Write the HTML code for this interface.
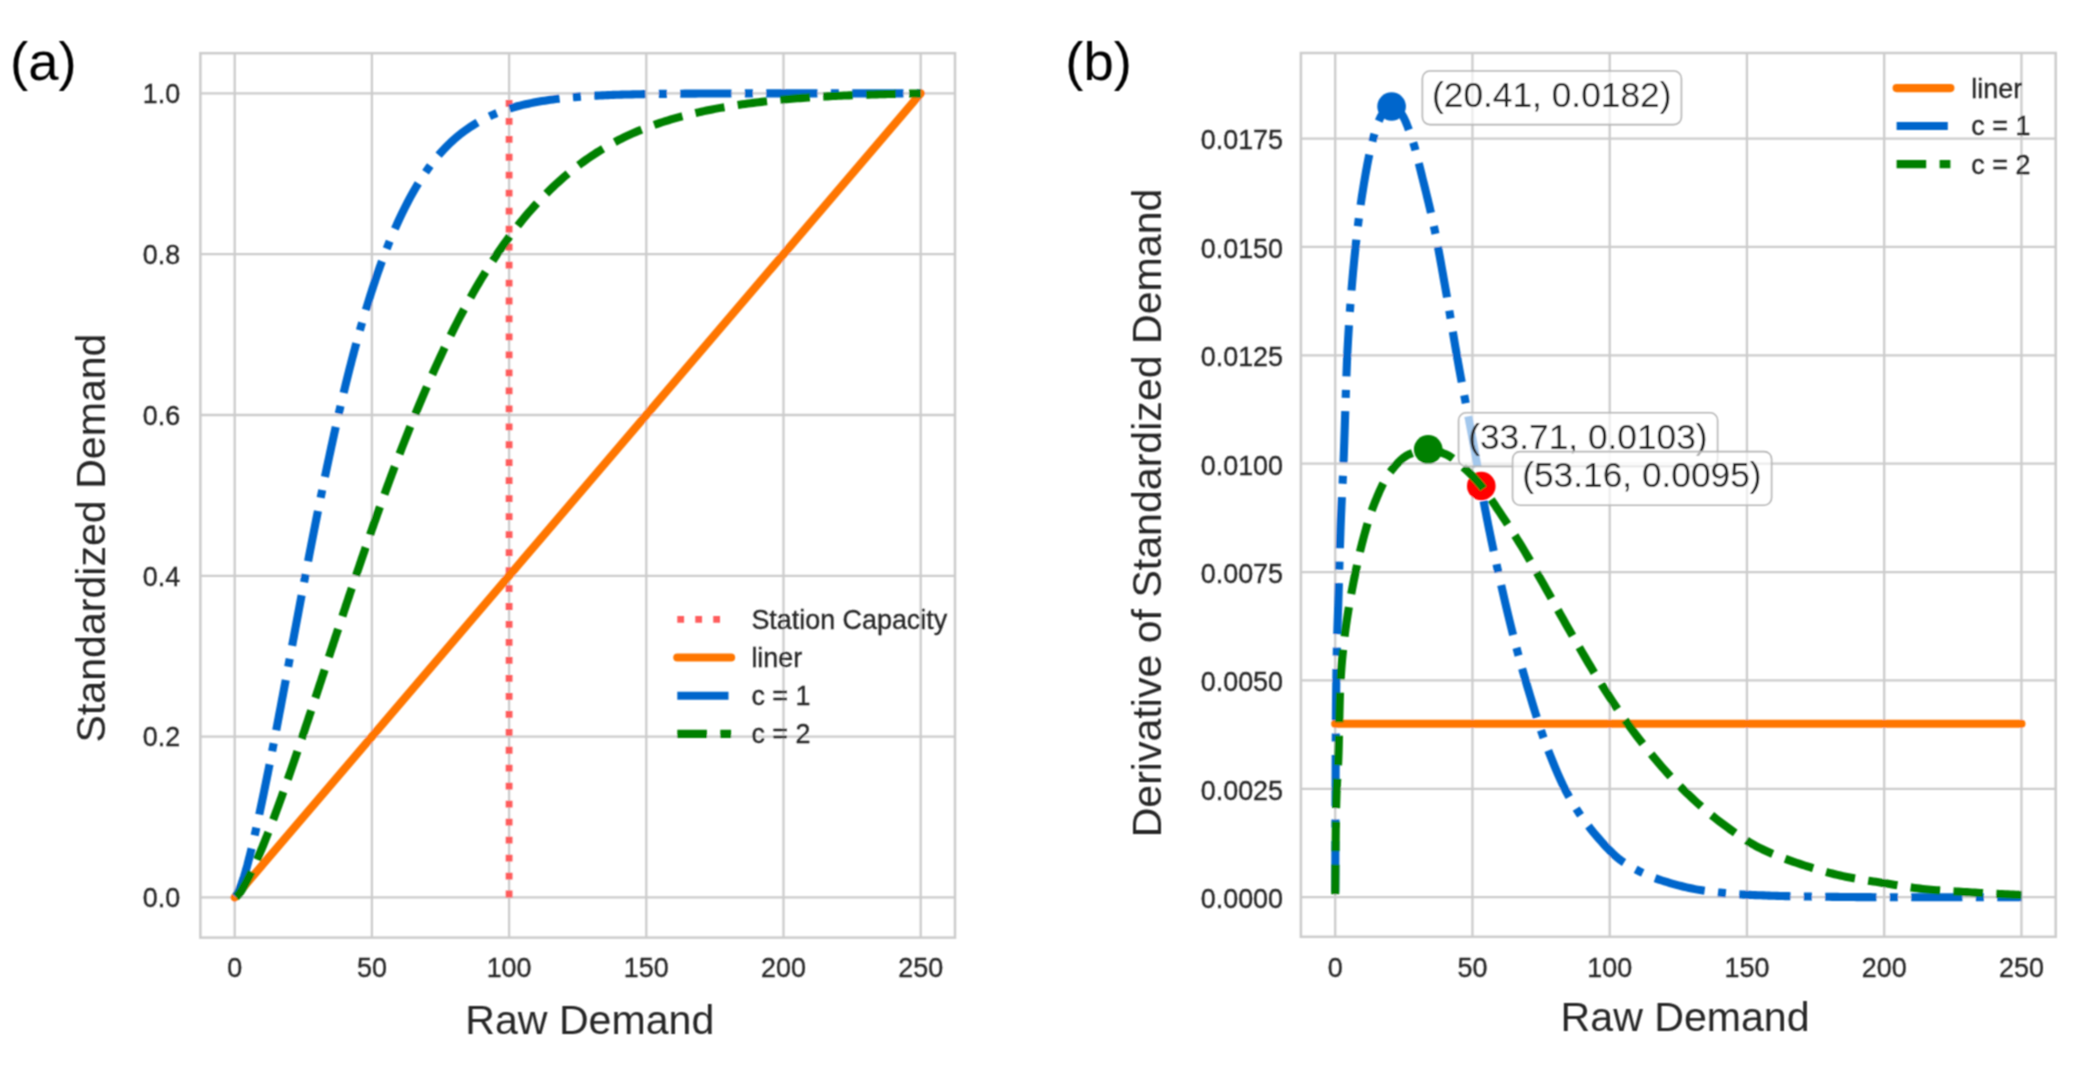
<!DOCTYPE html><html><head><meta charset="utf-8"><title>Standardized demand figure</title><style>html,body{margin:0;padding:0;background:#fff;}svg{display:block;}text{font-family:"Liberation Sans",Arial,Helvetica,sans-serif;}.sm text{stroke:#262626;stroke-width:0.3px;}</style></head><body>
<svg width="2076" height="1074" viewBox="0 0 2076 1074">
<rect width="2076" height="1074" fill="#fff"/>
<defs><filter id="bl" filterUnits="userSpaceOnUse" x="0" y="0" width="2076" height="1074"><feConvolveMatrix order="3" kernelMatrix="1 2 1 2 4 2 1 2 1" divisor="16" edgeMode="duplicate"/></filter></defs>
<g id="fig" filter="url(#bl)">
<g stroke="#cccccc" stroke-width="2.3" fill="none"><line x1="234.70" y1="53.2" x2="234.70" y2="937.6"/><line x1="371.90" y1="53.2" x2="371.90" y2="937.6"/><line x1="509.10" y1="53.2" x2="509.10" y2="937.6"/><line x1="646.30" y1="53.2" x2="646.30" y2="937.6"/><line x1="783.50" y1="53.2" x2="783.50" y2="937.6"/><line x1="920.70" y1="53.2" x2="920.70" y2="937.6"/><line x1="200.4" y1="897.40" x2="955.0" y2="897.40"/><line x1="200.4" y1="736.60" x2="955.0" y2="736.60"/><line x1="200.4" y1="575.80" x2="955.0" y2="575.80"/><line x1="200.4" y1="415.00" x2="955.0" y2="415.00"/><line x1="200.4" y1="254.20" x2="955.0" y2="254.20"/><line x1="200.4" y1="93.40" x2="955.0" y2="93.40"/></g><rect x="200.4" y="53.2" width="754.60" height="884.40" fill="none" stroke="#cccccc" stroke-width="2.5"/>
<g stroke="#cccccc" stroke-width="2.3" fill="none"><line x1="1335.20" y1="53.0" x2="1335.20" y2="936.8"/><line x1="1472.45" y1="53.0" x2="1472.45" y2="936.8"/><line x1="1609.70" y1="53.0" x2="1609.70" y2="936.8"/><line x1="1746.95" y1="53.0" x2="1746.95" y2="936.8"/><line x1="1884.20" y1="53.0" x2="1884.20" y2="936.8"/><line x1="2021.45" y1="53.0" x2="2021.45" y2="936.8"/><line x1="1300.9" y1="897.20" x2="2055.7" y2="897.20"/><line x1="1300.9" y1="788.83" x2="2055.7" y2="788.83"/><line x1="1300.9" y1="680.46" x2="2055.7" y2="680.46"/><line x1="1300.9" y1="572.08" x2="2055.7" y2="572.08"/><line x1="1300.9" y1="463.71" x2="2055.7" y2="463.71"/><line x1="1300.9" y1="355.34" x2="2055.7" y2="355.34"/><line x1="1300.9" y1="246.97" x2="2055.7" y2="246.97"/><line x1="1300.9" y1="138.59" x2="2055.7" y2="138.59"/></g><rect x="1300.9" y="53.0" width="754.80" height="883.80" fill="none" stroke="#cccccc" stroke-width="2.5"/>
<g class="sm" font-size="26.9" fill="#262626"><text x="234.70" y="977.3" text-anchor="middle">0</text><text x="1335.20" y="977.3" text-anchor="middle">0</text><text x="371.90" y="977.3" text-anchor="middle">50</text><text x="1472.45" y="977.3" text-anchor="middle">50</text><text x="509.10" y="977.3" text-anchor="middle">100</text><text x="1609.70" y="977.3" text-anchor="middle">100</text><text x="646.30" y="977.3" text-anchor="middle">150</text><text x="1746.95" y="977.3" text-anchor="middle">150</text><text x="783.50" y="977.3" text-anchor="middle">200</text><text x="1884.20" y="977.3" text-anchor="middle">200</text><text x="920.70" y="977.3" text-anchor="middle">250</text><text x="2021.45" y="977.3" text-anchor="middle">250</text><text x="180.2" y="907.20" text-anchor="end">0.0</text><text x="180.2" y="746.40" text-anchor="end">0.2</text><text x="180.2" y="585.60" text-anchor="end">0.4</text><text x="180.2" y="424.80" text-anchor="end">0.6</text><text x="180.2" y="264.00" text-anchor="end">0.8</text><text x="180.2" y="103.20" text-anchor="end">1.0</text><text x="1283" y="908.00" text-anchor="end">0.0000</text><text x="1283" y="799.63" text-anchor="end">0.0025</text><text x="1283" y="691.25" text-anchor="end">0.0050</text><text x="1283" y="582.88" text-anchor="end">0.0075</text><text x="1283" y="474.51" text-anchor="end">0.0100</text><text x="1283" y="366.14" text-anchor="end">0.0125</text><text x="1283" y="257.77" text-anchor="end">0.0150</text><text x="1283" y="149.39" text-anchor="end">0.0175</text></g>
<g font-size="41.1" fill="#262626"><text x="589.8" y="1034.3" text-anchor="middle">Raw Demand</text><text x="1685.1" y="1031.2" text-anchor="middle">Raw Demand</text><text transform="translate(105.3,538.0) rotate(-90)" text-anchor="middle">Standardized Demand</text><text transform="translate(1161.0,513.0) rotate(-90)" text-anchor="middle">Derivative of Standardized Demand</text></g>
<g class="pl" font-size="54.5" fill="#000"><text x="10" y="79.5">(a)</text><text x="1065.3" y="79.5">(b)</text></g>
<path d="M509.10,897.40 L509.10,93.40" stroke="#ff5c5c" stroke-width="6.78" stroke-dasharray="6.78 11.19" fill="none"/>
<path d="M234.70,897.40 L920.70,93.40" stroke="#ff7600" stroke-width="8.11" stroke-linecap="round" fill="none"/>
<path d="M234.70,897.40 L234.84,897.38 L234.97,897.33 L235.11,897.23 L235.25,897.11 L235.39,896.95 L235.52,896.78 L235.66,896.59 L235.80,896.40 L235.93,896.19 L236.07,895.98 L236.21,895.76 L236.35,895.54 L236.48,895.31 L236.62,895.07 L236.76,894.83 L236.90,894.58 L237.03,894.33 L237.17,894.08 L237.31,893.82 L237.44,893.56 L237.58,893.29 L237.72,893.02 L237.86,892.75 L237.99,892.47 L238.13,892.19 L238.27,891.91 L238.40,891.62 L238.54,891.32 L238.68,891.02 L238.82,890.72 L238.95,890.41 L239.09,890.10 L239.23,889.78 L239.36,889.46 L239.50,889.14 L239.64,888.81 L239.78,888.48 L239.91,888.14 L240.05,887.80 L240.19,887.45 L240.33,887.11 L240.46,886.75 L240.60,886.40 L240.74,886.04 L240.87,885.68 L241.01,885.32 L241.15,884.96 L241.29,884.59 L241.42,884.22 L241.56,883.84 L241.70,883.47 L241.83,883.09 L241.97,882.71 L242.11,882.32 L242.25,881.94 L242.38,881.55 L242.52,881.16 L242.66,880.76 L242.79,880.37 L242.93,879.97 L243.07,879.56 L243.21,879.16 L243.34,878.75 L243.48,878.33 L243.62,877.92 L243.76,877.50 L243.89,877.07 L244.03,876.64 L244.17,876.21 L244.30,875.77 L244.44,875.33 L244.58,874.89 L244.72,874.44 L244.85,873.99 L244.99,873.53 L245.13,873.07 L245.26,872.61 L245.40,872.14 L245.54,871.67 L245.68,871.20 L245.81,870.72 L245.95,870.23 L246.09,869.75 L246.22,869.26 L246.36,868.77 L246.50,868.27 L246.64,867.77 L246.77,867.27 L246.91,866.76 L247.05,866.26 L247.19,865.75 L247.32,865.23 L247.46,864.72 L247.60,864.20 L247.73,863.68 L247.87,863.16 L248.01,862.64 L248.15,862.11 L248.28,861.59 L248.42,861.06 L249.11,858.38 L249.79,855.66 L250.48,852.89 L251.16,850.09 L251.85,847.24 L252.54,844.36 L253.22,841.44 L253.91,838.49 L254.59,835.51 L255.28,832.50 L255.97,829.45 L256.65,826.38 L257.34,823.28 L258.02,820.16 L258.71,817.01 L259.40,813.83 L260.08,810.63 L260.77,807.41 L261.45,804.16 L262.14,800.90 L262.83,797.61 L263.51,794.31 L264.20,790.99 L264.88,787.64 L265.57,784.28 L266.26,780.91 L266.94,777.51 L267.63,774.10 L268.31,770.67 L269.00,767.23 L269.69,763.77 L270.37,760.30 L271.06,756.81 L271.74,753.31 L272.43,749.80 L273.12,746.28 L273.80,742.74 L274.49,739.20 L275.17,735.64 L275.86,732.08 L276.55,728.50 L277.23,724.92 L277.92,721.32 L278.60,717.72 L279.29,714.11 L279.98,710.50 L280.66,706.88 L281.35,703.25 L282.03,699.62 L282.72,695.98 L283.41,692.34 L284.09,688.69 L284.78,685.04 L285.46,681.39 L286.15,677.73 L286.84,674.07 L287.52,670.41 L288.21,666.74 L288.89,663.07 L289.58,659.40 L290.27,655.73 L290.95,652.06 L291.64,648.38 L292.32,644.71 L293.01,641.04 L293.70,637.38 L294.38,633.71 L295.07,630.04 L295.75,626.38 L296.44,622.72 L297.13,619.07 L297.81,615.41 L298.50,611.77 L299.18,608.12 L299.87,604.48 L300.56,600.84 L301.24,597.20 L301.93,593.57 L302.61,589.95 L303.30,586.33 L303.99,582.71 L304.67,579.11 L305.36,575.51 L306.04,571.91 L306.73,568.33 L307.42,564.75 L308.10,561.18 L308.79,557.62 L309.47,554.07 L310.16,550.53 L310.85,547.00 L311.53,543.48 L312.22,539.96 L312.90,536.46 L313.59,532.96 L314.28,529.48 L314.96,526.01 L315.65,522.55 L316.33,519.10 L317.02,515.67 L317.71,512.24 L318.39,508.83 L319.08,505.43 L319.76,502.05 L320.45,498.68 L321.14,495.32 L321.82,491.97 L322.51,488.64 L323.19,485.32 L323.88,482.01 L324.57,478.72 L325.25,475.43 L325.94,472.16 L326.62,468.91 L327.31,465.67 L328.00,462.43 L328.68,459.22 L329.37,456.01 L330.05,452.82 L330.74,449.65 L331.43,446.49 L332.11,443.34 L332.80,440.21 L333.48,437.09 L334.17,433.98 L334.86,430.90 L335.54,427.82 L336.23,424.77 L336.91,421.73 L337.60,418.71 L338.29,415.70 L338.97,412.71 L339.66,409.74 L340.34,406.79 L341.03,403.85 L341.72,400.94 L342.40,398.04 L343.09,395.16 L343.77,392.29 L344.46,389.45 L345.15,386.62 L345.83,383.81 L346.52,381.02 L347.20,378.24 L347.89,375.49 L348.58,372.75 L349.26,370.03 L349.95,367.34 L350.63,364.66 L351.32,362.00 L352.01,359.35 L352.69,356.73 L353.38,354.13 L354.06,351.54 L354.75,348.98 L355.44,346.43 L356.12,343.90 L356.81,341.39 L357.49,338.90 L358.18,336.43 L358.87,333.97 L359.55,331.53 L360.24,329.11 L360.92,326.70 L361.61,324.32 L362.30,321.94 L362.98,319.59 L363.67,317.25 L364.35,314.93 L365.04,312.63 L365.73,310.34 L366.41,308.07 L367.10,305.81 L367.78,303.57 L368.47,301.35 L369.16,299.14 L369.84,296.95 L370.53,294.78 L371.21,292.62 L371.90,290.49 L372.59,288.37 L373.27,286.26 L373.96,284.18 L374.64,282.11 L375.33,280.06 L376.02,278.02 L376.70,276.01 L377.39,274.01 L378.07,272.04 L378.76,270.08 L379.45,268.14 L380.13,266.21 L380.82,264.31 L381.50,262.42 L382.19,260.55 L382.88,258.70 L383.56,256.87 L384.25,255.05 L384.93,253.25 L385.62,251.46 L386.31,249.70 L386.99,247.95 L387.68,246.21 L388.36,244.49 L389.05,242.79 L389.74,241.10 L390.42,239.43 L391.11,237.77 L391.79,236.13 L392.48,234.50 L393.17,232.89 L393.85,231.29 L394.54,229.70 L395.22,228.14 L395.91,226.58 L396.60,225.04 L397.28,223.52 L397.97,222.01 L398.65,220.51 L399.34,219.03 L402.08,213.24 L404.83,207.68 L407.57,202.33 L410.32,197.19 L413.06,192.26 L415.80,187.53 L418.55,182.99 L421.29,178.64 L424.04,174.46 L426.78,170.47 L429.52,166.64 L432.27,162.98 L435.01,159.49 L437.76,156.17 L440.50,153.00 L443.24,149.98 L445.99,147.10 L448.73,144.36 L451.48,141.76 L454.22,139.27 L456.96,136.91 L459.71,134.67 L462.45,132.54 L465.20,130.51 L467.94,128.58 L470.68,126.74 L473.43,124.99 L476.17,123.32 L478.92,121.73 L481.66,120.22 L484.40,118.78 L487.15,117.41 L489.89,116.11 L492.64,114.87 L495.38,113.69 L498.12,112.57 L500.87,111.51 L503.61,110.50 L506.36,109.56 L509.10,108.66 L511.84,107.82 L514.59,107.03 L517.33,106.28 L520.08,105.58 L522.82,104.91 L525.56,104.27 L528.31,103.67 L531.05,103.10 L533.80,102.55 L536.54,102.04 L539.28,101.55 L542.03,101.08 L544.77,100.64 L547.52,100.23 L550.26,99.83 L553.00,99.46 L555.75,99.10 L558.49,98.77 L561.24,98.45 L563.98,98.15 L566.72,97.86 L569.47,97.59 L572.21,97.34 L574.96,97.09 L577.70,96.87 L580.44,96.65 L583.19,96.45 L585.93,96.27 L588.68,96.09 L591.42,95.92 L594.16,95.77 L596.91,95.62 L599.65,95.49 L602.40,95.36 L605.14,95.24 L607.88,95.12 L610.63,95.02 L613.37,94.92 L616.12,94.82 L618.86,94.73 L621.60,94.65 L624.35,94.57 L627.09,94.50 L629.84,94.43 L632.58,94.37 L635.32,94.31 L638.07,94.25 L640.81,94.20 L643.56,94.15 L646.30,94.11 L649.04,94.06 L651.79,94.02 L654.53,93.98 L657.28,93.94 L660.02,93.91 L662.76,93.87 L665.51,93.84 L668.25,93.81 L671.00,93.78 L673.74,93.75 L676.48,93.73 L679.23,93.70 L681.97,93.68 L684.72,93.66 L687.46,93.64 L690.20,93.62 L692.95,93.60 L695.69,93.59 L698.44,93.57 L701.18,93.56 L703.92,93.54 L706.67,93.53 L709.41,93.52 L712.16,93.51 L714.90,93.50 L717.64,93.49 L720.39,93.48 L723.13,93.47 L725.88,93.46 L728.62,93.45 L731.36,93.44 L734.11,93.44 L736.85,93.43 L739.60,93.43 L742.34,93.42 L745.08,93.42 L747.83,93.42 L750.57,93.41 L753.32,93.41 L756.06,93.41 L758.80,93.41 L761.55,93.40 L764.29,93.40 L767.04,93.40 L769.78,93.40 L772.52,93.40 L775.27,93.40 L778.01,93.40 L780.76,93.40 L783.50,93.40 L786.24,93.40 L788.99,93.40 L791.73,93.40 L794.48,93.40 L797.22,93.40 L799.96,93.40 L802.71,93.40 L805.45,93.40 L808.20,93.40 L810.94,93.40 L813.68,93.40 L816.43,93.40 L819.17,93.40 L821.92,93.40 L824.66,93.40 L827.40,93.40 L830.15,93.40 L832.89,93.40 L835.64,93.40 L838.38,93.40 L841.12,93.40 L843.87,93.40 L846.61,93.40 L849.36,93.40 L852.10,93.40 L854.84,93.40 L857.59,93.40 L860.33,93.40 L863.08,93.40 L865.82,93.40 L868.56,93.40 L871.31,93.40 L874.05,93.40 L876.80,93.40 L879.54,93.40 L882.28,93.40 L885.03,93.40 L887.77,93.40 L890.52,93.40 L893.26,93.40 L896.00,93.40 L898.75,93.40 L901.49,93.40 L904.24,93.40 L906.98,93.40 L909.72,93.40 L912.47,93.40 L915.21,93.40 L917.96,93.40 L920.70,93.40" stroke="#0066cc" stroke-width="8.11" stroke-dasharray="51.2 13.4 8.0 13.4" stroke-dashoffset="-1" stroke-linejoin="round" fill="none"/>
<path d="M234.70,897.40 L234.84,897.39 L234.97,897.37 L235.11,897.33 L235.25,897.27 L235.39,897.20 L235.52,897.13 L235.66,897.04 L235.80,896.96 L235.93,896.86 L236.07,896.77 L236.21,896.67 L236.35,896.57 L236.48,896.46 L236.62,896.36 L236.76,896.25 L236.90,896.14 L237.03,896.02 L237.17,895.91 L237.31,895.79 L237.44,895.67 L237.58,895.55 L237.72,895.42 L237.86,895.30 L237.99,895.16 L238.13,895.03 L238.27,894.89 L238.40,894.75 L238.54,894.60 L238.68,894.44 L238.82,894.28 L238.95,894.11 L239.09,893.94 L239.23,893.76 L239.36,893.58 L239.50,893.39 L239.64,893.20 L239.78,893.00 L239.91,892.80 L240.05,892.60 L240.19,892.40 L240.33,892.20 L240.46,891.99 L240.60,891.79 L240.74,891.58 L240.87,891.36 L241.01,891.15 L241.15,890.94 L241.29,890.72 L241.42,890.50 L241.56,890.28 L241.70,890.06 L241.83,889.84 L241.97,889.62 L242.11,889.39 L242.25,889.17 L242.38,888.94 L242.52,888.71 L242.66,888.48 L242.79,888.25 L242.93,888.02 L243.07,887.79 L243.21,887.55 L243.34,887.32 L243.48,887.08 L243.62,886.84 L243.76,886.60 L243.89,886.36 L244.03,886.12 L244.17,885.88 L244.30,885.64 L244.44,885.39 L244.58,885.15 L244.72,884.90 L244.85,884.65 L244.99,884.40 L245.13,884.16 L245.26,883.91 L245.40,883.65 L245.54,883.40 L245.68,883.15 L245.81,882.90 L245.95,882.64 L246.09,882.39 L246.22,882.13 L246.36,881.87 L246.50,881.62 L246.64,881.36 L246.77,881.10 L246.91,880.84 L247.05,880.58 L247.19,880.31 L247.32,880.05 L247.46,879.79 L247.60,879.52 L247.73,879.26 L247.87,878.99 L248.01,878.73 L248.15,878.46 L248.28,878.19 L248.42,877.92 L249.11,876.56 L249.79,875.19 L250.48,873.80 L251.16,872.39 L251.85,870.96 L252.54,869.52 L253.22,868.06 L253.91,866.58 L254.59,865.09 L255.28,863.58 L255.97,862.06 L256.65,860.53 L257.34,858.97 L258.02,857.41 L258.71,855.83 L259.40,854.23 L260.08,852.63 L260.77,851.00 L261.45,849.37 L262.14,847.72 L262.83,846.07 L263.51,844.40 L264.20,842.71 L264.88,841.02 L265.57,839.32 L266.26,837.60 L266.94,835.87 L267.63,834.13 L268.31,832.39 L269.00,830.63 L269.69,828.86 L270.37,827.08 L271.06,825.29 L271.74,823.50 L272.43,821.69 L273.12,819.88 L273.80,818.06 L274.49,816.23 L275.17,814.39 L275.86,812.54 L276.55,810.69 L277.23,808.83 L277.92,806.96 L278.60,805.09 L279.29,803.20 L279.98,801.31 L280.66,799.42 L281.35,797.51 L282.03,795.60 L282.72,793.68 L283.41,791.76 L284.09,789.83 L284.78,787.90 L285.46,785.96 L286.15,784.01 L286.84,782.06 L287.52,780.10 L288.21,778.14 L288.89,776.17 L289.58,774.20 L290.27,772.23 L290.95,770.25 L291.64,768.27 L292.32,766.28 L293.01,764.29 L293.70,762.29 L294.38,760.29 L295.07,758.29 L295.75,756.29 L296.44,754.28 L297.13,752.27 L297.81,750.25 L298.50,748.23 L299.18,746.21 L299.87,744.18 L300.56,742.15 L301.24,740.12 L301.93,738.09 L302.61,736.05 L303.30,734.01 L303.99,731.97 L304.67,729.93 L305.36,727.88 L306.04,725.83 L306.73,723.78 L307.42,721.73 L308.10,719.68 L308.79,717.62 L309.47,715.57 L310.16,713.51 L310.85,711.45 L311.53,709.39 L312.22,707.33 L312.90,705.26 L313.59,703.20 L314.28,701.14 L314.96,699.07 L315.65,697.00 L316.33,694.93 L317.02,692.86 L317.71,690.79 L318.39,688.72 L319.08,686.65 L319.76,684.58 L320.45,682.50 L321.14,680.43 L321.82,678.35 L322.51,676.28 L323.19,674.20 L323.88,672.12 L324.57,670.04 L325.25,667.97 L325.94,665.89 L326.62,663.81 L327.31,661.73 L328.00,659.65 L328.68,657.58 L329.37,655.50 L330.05,653.42 L330.74,651.34 L331.43,649.27 L332.11,647.19 L332.80,645.11 L333.48,643.04 L334.17,640.97 L334.86,638.89 L335.54,636.82 L336.23,634.75 L336.91,632.68 L337.60,630.61 L338.29,628.54 L338.97,626.47 L339.66,624.41 L340.34,622.34 L341.03,620.28 L341.72,618.21 L342.40,616.15 L343.09,614.09 L343.77,612.03 L344.46,609.98 L345.15,607.92 L345.83,605.87 L346.52,603.81 L347.20,601.76 L347.89,599.71 L348.58,597.66 L349.26,595.61 L349.95,593.57 L350.63,591.53 L351.32,589.49 L352.01,587.45 L352.69,585.41 L353.38,583.38 L354.06,581.35 L354.75,579.32 L355.44,577.30 L356.12,575.27 L356.81,573.25 L357.49,571.24 L358.18,569.22 L358.87,567.21 L359.55,565.20 L360.24,563.19 L360.92,561.19 L361.61,559.19 L362.30,557.19 L362.98,555.19 L363.67,553.20 L364.35,551.21 L365.04,549.22 L365.73,547.24 L366.41,545.26 L367.10,543.28 L367.78,541.30 L368.47,539.33 L369.16,537.36 L369.84,535.40 L370.53,533.43 L371.21,531.47 L371.90,529.52 L372.59,527.56 L373.27,525.61 L373.96,523.67 L374.64,521.73 L375.33,519.79 L376.02,517.85 L376.70,515.92 L377.39,513.99 L378.07,512.06 L378.76,510.14 L379.45,508.22 L380.13,506.31 L380.82,504.40 L381.50,502.49 L382.19,500.59 L382.88,498.69 L383.56,496.80 L384.25,494.91 L384.93,493.02 L385.62,491.14 L386.31,489.26 L386.99,487.39 L387.68,485.52 L388.36,483.66 L389.05,481.80 L389.74,479.94 L390.42,478.10 L391.11,476.25 L391.79,474.41 L392.48,472.57 L393.17,470.74 L393.85,468.92 L394.54,467.10 L395.22,465.28 L395.91,463.47 L396.60,461.66 L397.28,459.86 L397.97,458.06 L398.65,456.27 L399.34,454.48 L402.08,447.38 L404.83,440.36 L407.57,433.41 L410.32,426.54 L413.06,419.75 L415.80,413.04 L418.55,406.41 L421.29,399.86 L424.04,393.39 L426.78,387.02 L429.52,380.72 L432.27,374.52 L435.01,368.41 L437.76,362.38 L440.50,356.45 L443.24,350.61 L445.99,344.85 L448.73,339.19 L451.48,333.62 L454.22,328.14 L456.96,322.75 L459.71,317.45 L462.45,312.24 L465.20,307.12 L467.94,302.09 L470.68,297.16 L473.43,292.31 L476.17,287.54 L478.92,282.87 L481.66,278.28 L484.40,273.78 L487.15,269.37 L489.89,265.04 L492.64,260.80 L495.38,256.65 L498.12,252.57 L500.87,248.58 L503.61,244.67 L506.36,240.84 L509.10,237.09 L511.84,233.41 L514.59,229.82 L517.33,226.30 L520.08,222.85 L522.82,219.48 L525.56,216.19 L528.31,212.96 L531.05,209.81 L533.80,206.72 L536.54,203.71 L539.28,200.76 L542.03,197.87 L544.77,195.05 L547.52,192.30 L550.26,189.61 L553.00,186.98 L555.75,184.41 L558.49,181.90 L561.24,179.45 L563.98,177.06 L566.72,174.72 L569.47,172.44 L572.21,170.22 L574.96,168.05 L577.70,165.94 L580.44,163.87 L583.19,161.86 L585.93,159.90 L588.68,157.98 L591.42,156.12 L594.16,154.30 L596.91,152.53 L599.65,150.81 L602.40,149.13 L605.14,147.50 L607.88,145.91 L610.63,144.36 L613.37,142.85 L616.12,141.39 L618.86,139.96 L621.60,138.58 L624.35,137.23 L627.09,135.92 L629.84,134.64 L632.58,133.41 L635.32,132.21 L638.07,131.04 L640.81,129.91 L643.56,128.82 L646.30,127.75 L649.04,126.72 L651.79,125.72 L654.53,124.75 L657.28,123.80 L660.02,122.88 L662.76,121.99 L665.51,121.12 L668.25,120.28 L671.00,119.45 L673.74,118.65 L676.48,117.87 L679.23,117.11 L681.97,116.37 L684.72,115.65 L687.46,114.95 L690.20,114.27 L692.95,113.61 L695.69,112.96 L698.44,112.33 L701.18,111.71 L703.92,111.12 L706.67,110.54 L709.41,109.97 L712.16,109.42 L714.90,108.89 L717.64,108.38 L720.39,107.87 L723.13,107.39 L725.88,106.91 L728.62,106.45 L731.36,106.01 L734.11,105.58 L736.85,105.16 L739.60,104.75 L742.34,104.35 L745.08,103.96 L747.83,103.59 L750.57,103.22 L753.32,102.87 L756.06,102.52 L758.80,102.18 L761.55,101.85 L764.29,101.53 L767.04,101.22 L769.78,100.91 L772.52,100.62 L775.27,100.33 L778.01,100.05 L780.76,99.77 L783.50,99.51 L786.24,99.25 L788.99,99.00 L791.73,98.76 L794.48,98.53 L797.22,98.31 L799.96,98.09 L802.71,97.88 L805.45,97.69 L808.20,97.49 L810.94,97.31 L813.68,97.14 L816.43,96.97 L819.17,96.80 L821.92,96.65 L824.66,96.50 L827.40,96.35 L830.15,96.21 L832.89,96.07 L835.64,95.94 L838.38,95.81 L841.12,95.69 L843.87,95.57 L846.61,95.45 L849.36,95.33 L852.10,95.22 L854.84,95.12 L857.59,95.01 L860.33,94.91 L863.08,94.81 L865.82,94.72 L868.56,94.62 L871.31,94.53 L874.05,94.45 L876.80,94.36 L879.54,94.28 L882.28,94.21 L885.03,94.13 L887.77,94.06 L890.52,93.99 L893.26,93.93 L896.00,93.86 L898.75,93.80 L901.49,93.74 L904.24,93.69 L906.98,93.63 L909.72,93.58 L912.47,93.53 L915.21,93.49 L917.96,93.44 L920.70,93.40" stroke="#008000" stroke-width="8.11" stroke-dasharray="29.6 13.4" stroke-dashoffset="-1.5" stroke-linejoin="round" fill="none"/>
<path d="M677.3,619.3 L731.1,619.3" stroke="#ff5c5c" stroke-width="6.78" stroke-dasharray="6.78 11.19"/>
<path d="M677.3,657.5 L731.1,657.5" stroke="#ff7600" stroke-width="8.11" stroke-linecap="round"/>
<path d="M677.3,695.7 L731.1,695.7" stroke="#0066cc" stroke-width="8.11" stroke-dasharray="51.2 13.4 8.0 13.4"/>
<path d="M677.3,733.9 L731.1,733.9" stroke="#008000" stroke-width="8.11" stroke-dasharray="29.6 13.4"/>
<g class="sm" font-size="26.9" fill="#262626" xml:space="preserve"><text x="751.4" y="628.8">Station Capacity</text><text x="751.4" y="667.0">liner</text><text x="751.4" y="705.2">c = 1</text><text x="751.4" y="743.4">c = 2</text></g>
<path d="M1335.20,723.80 L2021.45,723.80" stroke="#ff7600" stroke-width="8.11" stroke-linecap="round" fill="none"/>
<path d="M1335.20,897.20 L1335.34,857.42 L1335.47,817.17 L1335.61,778.98 L1335.75,745.39 L1335.89,718.92 L1336.02,702.11 L1336.16,691.47 L1336.30,681.78 L1336.44,672.95 L1336.57,664.92 L1336.71,657.62 L1336.85,650.98 L1336.98,644.93 L1337.12,639.40 L1337.26,634.31 L1337.40,629.60 L1337.53,625.19 L1337.67,621.02 L1337.81,617.02 L1337.94,613.10 L1338.08,609.22 L1338.22,605.28 L1338.36,601.23 L1338.49,596.99 L1338.63,592.49 L1338.77,587.66 L1338.91,582.66 L1339.04,577.68 L1339.18,572.74 L1339.32,567.86 L1339.45,563.04 L1339.59,558.29 L1339.73,553.63 L1339.87,549.07 L1340.00,544.61 L1340.14,540.28 L1340.28,536.08 L1340.42,532.02 L1340.55,528.12 L1340.69,524.38 L1340.83,520.81 L1340.96,517.39 L1341.10,514.10 L1341.24,510.93 L1341.38,507.87 L1341.51,504.90 L1341.65,502.00 L1341.79,499.16 L1341.93,496.37 L1342.06,493.61 L1342.20,490.86 L1342.34,488.12 L1342.47,485.36 L1342.61,482.57 L1342.75,479.73 L1342.89,476.84 L1343.02,473.88 L1343.16,470.82 L1343.30,467.66 L1343.43,464.39 L1343.57,460.97 L1343.71,457.42 L1343.85,453.73 L1343.98,449.93 L1344.12,446.02 L1344.26,442.02 L1344.40,437.94 L1344.53,433.78 L1344.67,429.57 L1344.81,425.32 L1344.94,421.03 L1345.08,416.72 L1345.22,412.40 L1345.36,408.09 L1345.49,403.79 L1345.63,399.52 L1345.77,395.28 L1345.91,391.10 L1346.04,386.98 L1346.18,382.93 L1346.32,378.98 L1346.45,375.12 L1346.59,371.37 L1346.73,367.75 L1346.87,364.26 L1347.00,360.92 L1347.14,357.74 L1347.28,354.73 L1347.42,351.91 L1347.55,349.28 L1347.69,346.77 L1347.83,344.30 L1347.96,341.87 L1348.10,339.47 L1348.24,337.11 L1348.38,334.79 L1348.51,332.50 L1348.65,330.24 L1348.79,328.02 L1348.92,325.84 L1349.61,315.37 L1350.30,305.64 L1350.98,296.55 L1351.67,288.05 L1352.36,280.03 L1353.04,272.43 L1353.73,265.17 L1354.41,258.16 L1355.10,251.33 L1355.79,244.73 L1356.47,238.37 L1357.16,232.27 L1357.85,226.40 L1358.53,220.77 L1359.22,215.37 L1359.90,210.19 L1360.59,205.22 L1361.28,200.47 L1361.96,195.91 L1362.65,191.55 L1363.34,187.32 L1364.02,183.18 L1364.71,179.12 L1365.39,175.15 L1366.08,171.28 L1366.77,167.52 L1367.45,163.86 L1368.14,160.32 L1368.83,156.90 L1369.51,153.60 L1370.20,150.44 L1370.88,147.41 L1371.57,144.52 L1372.26,141.79 L1372.94,139.21 L1373.63,136.79 L1374.32,134.47 L1375.00,132.19 L1375.69,129.98 L1376.38,127.85 L1377.06,125.79 L1377.75,123.84 L1378.43,122.01 L1379.12,120.30 L1379.81,118.73 L1380.49,117.31 L1381.18,116.06 L1381.87,114.99 L1382.55,114.01 L1383.24,113.04 L1383.92,112.09 L1384.61,111.16 L1385.30,110.28 L1385.98,109.45 L1386.67,108.68 L1387.36,107.99 L1388.04,107.38 L1388.73,106.87 L1389.41,106.46 L1390.10,106.17 L1390.79,106.01 L1391.47,105.99 L1392.16,106.08 L1392.85,106.27 L1393.53,106.56 L1394.22,106.92 L1394.90,107.37 L1395.59,107.88 L1396.28,108.45 L1396.96,109.08 L1397.65,109.75 L1398.34,110.46 L1399.02,111.19 L1399.71,111.96 L1400.39,112.73 L1401.08,113.51 L1401.77,114.37 L1402.45,115.37 L1403.14,116.51 L1403.83,117.78 L1404.51,119.15 L1405.20,120.64 L1405.88,122.22 L1406.57,123.88 L1407.26,125.62 L1407.94,127.42 L1408.63,129.27 L1409.32,131.17 L1410.00,133.11 L1410.69,135.06 L1411.37,137.03 L1412.06,139.01 L1412.75,141.05 L1413.43,143.21 L1414.12,145.48 L1414.81,147.86 L1415.49,150.32 L1416.18,152.87 L1416.86,155.49 L1417.55,158.16 L1418.24,160.89 L1418.92,163.65 L1419.61,166.43 L1420.30,169.23 L1420.98,172.04 L1421.67,174.84 L1422.35,177.62 L1423.04,180.37 L1423.73,183.11 L1424.41,185.85 L1425.10,188.60 L1425.79,191.36 L1426.47,194.13 L1427.16,196.92 L1427.84,199.74 L1428.53,202.59 L1429.22,205.47 L1429.90,208.38 L1430.59,211.34 L1431.28,214.34 L1431.96,217.38 L1432.65,220.48 L1433.33,223.64 L1434.02,226.86 L1434.71,230.15 L1435.39,233.53 L1436.08,236.99 L1436.77,240.51 L1437.45,244.11 L1438.14,247.75 L1438.82,251.45 L1439.51,255.19 L1440.20,258.97 L1440.88,262.77 L1441.57,266.60 L1442.26,270.45 L1442.94,274.31 L1443.63,278.16 L1444.31,282.02 L1445.00,285.86 L1445.69,289.72 L1446.37,293.63 L1447.06,297.58 L1447.75,301.57 L1448.43,305.59 L1449.12,309.64 L1449.80,313.71 L1450.49,317.80 L1451.18,321.89 L1451.86,325.99 L1452.55,330.09 L1453.24,334.18 L1453.92,338.25 L1454.61,342.31 L1455.29,346.35 L1455.98,350.35 L1456.67,354.32 L1457.35,358.25 L1458.04,362.13 L1458.73,365.96 L1459.41,369.73 L1460.10,373.47 L1460.78,377.16 L1461.47,380.83 L1462.16,384.46 L1462.84,388.06 L1463.53,391.65 L1464.22,395.22 L1464.90,398.77 L1465.59,402.32 L1466.27,405.86 L1466.96,409.41 L1467.65,412.95 L1468.33,416.51 L1469.02,420.08 L1469.70,423.66 L1470.39,427.27 L1471.08,430.90 L1471.76,434.56 L1472.45,438.25 L1473.14,441.99 L1473.82,445.78 L1474.51,449.60 L1475.20,453.46 L1475.88,457.34 L1476.57,461.25 L1477.25,465.17 L1477.94,469.10 L1478.63,473.03 L1479.31,476.95 L1480.00,480.87 L1480.68,484.77 L1481.37,488.64 L1482.06,492.49 L1482.74,496.30 L1483.43,500.07 L1484.12,503.79 L1484.80,507.46 L1485.49,511.06 L1486.17,514.60 L1486.86,518.09 L1487.55,521.54 L1488.23,524.97 L1488.92,528.36 L1489.61,531.72 L1490.29,535.05 L1490.98,538.36 L1491.66,541.64 L1492.35,544.89 L1493.04,548.12 L1493.72,551.33 L1494.41,554.52 L1495.10,557.68 L1495.78,560.83 L1496.47,563.96 L1497.15,567.07 L1497.84,570.17 L1498.53,573.25 L1499.21,576.31 L1499.90,579.37 L1502.64,591.46 L1505.39,603.32 L1508.13,614.89 L1510.88,626.12 L1513.62,636.98 L1516.37,647.48 L1519.12,657.67 L1521.86,667.56 L1524.61,677.17 L1527.35,686.49 L1530.10,695.66 L1532.84,704.73 L1535.59,713.63 L1538.33,722.29 L1541.08,730.63 L1543.82,738.57 L1546.57,746.04 L1549.31,753.16 L1552.06,760.09 L1554.80,766.80 L1557.55,773.25 L1560.29,779.40 L1563.04,785.24 L1565.78,790.71 L1568.53,795.79 L1571.27,800.56 L1574.02,805.12 L1576.76,809.49 L1579.51,813.66 L1582.25,817.66 L1585.00,821.50 L1587.74,825.17 L1590.49,828.69 L1593.23,832.08 L1595.98,835.33 L1598.72,838.51 L1601.47,841.64 L1604.21,844.70 L1606.95,847.66 L1609.70,850.50 L1612.45,853.20 L1615.19,855.73 L1617.93,858.08 L1620.68,860.22 L1623.43,862.12 L1626.17,863.86 L1628.91,865.53 L1631.66,867.13 L1634.40,868.66 L1637.15,870.13 L1639.89,871.52 L1642.64,872.86 L1645.38,874.13 L1648.13,875.34 L1650.88,876.48 L1653.62,877.58 L1656.37,878.61 L1659.11,879.59 L1661.86,880.52 L1664.60,881.39 L1667.35,882.23 L1670.09,883.05 L1672.84,883.84 L1675.58,884.60 L1678.33,885.34 L1681.07,886.05 L1683.82,886.73 L1686.56,887.38 L1689.31,887.99 L1692.05,888.57 L1694.80,889.12 L1697.54,889.62 L1700.29,890.09 L1703.03,890.52 L1705.78,890.91 L1708.52,891.27 L1711.27,891.61 L1714.01,891.95 L1716.76,892.27 L1719.50,892.58 L1722.25,892.87 L1724.99,893.15 L1727.74,893.41 L1730.48,893.66 L1733.23,893.89 L1735.97,894.10 L1738.72,894.29 L1741.46,894.47 L1744.20,894.62 L1746.95,894.75 L1749.70,894.87 L1752.44,894.99 L1755.18,895.10 L1757.93,895.21 L1760.68,895.32 L1763.42,895.42 L1766.16,895.51 L1768.91,895.61 L1771.66,895.69 L1774.40,895.78 L1777.14,895.86 L1779.89,895.94 L1782.63,896.01 L1785.38,896.08 L1788.12,896.15 L1790.87,896.22 L1793.62,896.28 L1796.36,896.33 L1799.11,896.39 L1801.85,896.44 L1804.60,896.49 L1807.34,896.53 L1810.09,896.57 L1812.83,896.61 L1815.58,896.65 L1818.32,896.68 L1821.07,896.72 L1823.81,896.75 L1826.56,896.78 L1829.30,896.81 L1832.05,896.85 L1834.79,896.88 L1837.54,896.91 L1840.28,896.94 L1843.03,896.96 L1845.77,896.99 L1848.52,897.02 L1851.26,897.04 L1854.01,897.07 L1856.75,897.09 L1859.50,897.11 L1862.24,897.13 L1864.99,897.14 L1867.73,897.16 L1870.47,897.17 L1873.22,897.18 L1875.97,897.19 L1878.71,897.19 L1881.45,897.20 L1884.20,897.20 L1886.95,897.20 L1889.69,897.20 L1892.43,897.20 L1895.18,897.20 L1897.93,897.20 L1900.67,897.20 L1903.41,897.20 L1906.16,897.20 L1908.91,897.20 L1911.65,897.20 L1914.39,897.20 L1917.14,897.20 L1919.89,897.20 L1922.63,897.20 L1925.38,897.20 L1928.12,897.20 L1930.87,897.20 L1933.61,897.20 L1936.36,897.20 L1939.10,897.20 L1941.85,897.20 L1944.59,897.20 L1947.34,897.20 L1950.08,897.20 L1952.83,897.20 L1955.57,897.20 L1958.32,897.20 L1961.06,897.20 L1963.81,897.20 L1966.55,897.20 L1969.30,897.20 L1972.04,897.20 L1974.79,897.20 L1977.53,897.20 L1980.28,897.20 L1983.02,897.20 L1985.77,897.20 L1988.51,897.20 L1991.26,897.20 L1994.00,897.20 L1996.75,897.20 L1999.49,897.20 L2002.24,897.20 L2004.98,897.20 L2007.72,897.20 L2010.47,897.20 L2013.22,897.20 L2015.96,897.20 L2018.70,897.20 L2021.45,897.20" stroke="#0066cc" stroke-width="8.11" stroke-dasharray="51.2 13.4 8.0 13.4" stroke-dashoffset="-5" stroke-linejoin="round" fill="none"/>
<circle cx="1391.6" cy="106.5" r="14.3" fill="#0066cc"/>
<circle cx="1428.2" cy="449.3" r="14.3" fill="#008000"/>
<circle cx="1481.3" cy="486.0" r="14.3" fill="#ff0000"/>
<path d="M1335.20,897.20 L1335.34,879.58 L1335.47,861.93 L1335.61,845.22 L1335.75,830.43 L1335.89,818.53 L1336.02,810.50 L1336.16,805.07 L1336.30,800.26 L1336.44,796.00 L1336.57,792.24 L1336.71,788.89 L1336.85,785.91 L1336.98,783.22 L1337.12,780.75 L1337.26,778.45 L1337.40,776.24 L1337.53,774.06 L1337.67,771.85 L1337.81,769.53 L1337.94,767.05 L1338.08,764.34 L1338.22,761.33 L1338.36,757.95 L1338.49,754.15 L1338.63,749.69 L1338.77,744.51 L1338.91,738.76 L1339.04,732.63 L1339.18,726.26 L1339.32,719.82 L1339.45,713.49 L1339.59,707.43 L1339.73,701.79 L1339.87,696.75 L1340.00,692.48 L1340.14,689.13 L1340.28,686.36 L1340.42,683.73 L1340.55,681.23 L1340.69,678.84 L1340.83,676.57 L1340.96,674.40 L1341.10,672.33 L1341.24,670.36 L1341.38,668.48 L1341.51,666.68 L1341.65,664.95 L1341.79,663.30 L1341.93,661.70 L1342.06,660.17 L1342.20,658.68 L1342.34,657.24 L1342.47,655.84 L1342.61,654.47 L1342.75,653.12 L1342.89,651.80 L1343.02,650.49 L1343.16,649.18 L1343.30,647.88 L1343.43,646.57 L1343.57,645.27 L1343.71,644.00 L1343.85,642.75 L1343.98,641.52 L1344.12,640.32 L1344.26,639.13 L1344.40,637.97 L1344.53,636.83 L1344.67,635.71 L1344.81,634.61 L1344.94,633.53 L1345.08,632.46 L1345.22,631.41 L1345.36,630.38 L1345.49,629.37 L1345.63,628.36 L1345.77,627.38 L1345.91,626.40 L1346.04,625.44 L1346.18,624.49 L1346.32,623.55 L1346.45,622.62 L1346.59,621.70 L1346.73,620.79 L1346.87,619.89 L1347.00,618.99 L1347.14,618.10 L1347.28,617.22 L1347.42,616.34 L1347.55,615.46 L1347.69,614.59 L1347.83,613.73 L1347.96,612.86 L1348.10,612.00 L1348.24,611.14 L1348.38,610.28 L1348.51,609.43 L1348.65,608.59 L1348.79,607.76 L1348.92,606.93 L1349.61,602.88 L1350.30,598.96 L1350.98,595.17 L1351.67,591.49 L1352.36,587.91 L1353.04,584.41 L1353.73,580.99 L1354.41,577.61 L1355.10,574.28 L1355.79,570.98 L1356.47,567.72 L1357.16,564.50 L1357.85,561.33 L1358.53,558.22 L1359.22,555.17 L1359.90,552.19 L1360.59,549.29 L1361.28,546.48 L1361.96,543.75 L1362.65,541.12 L1363.34,538.55 L1364.02,536.02 L1364.71,533.52 L1365.39,531.05 L1366.08,528.63 L1366.77,526.25 L1367.45,523.92 L1368.14,521.63 L1368.83,519.40 L1369.51,517.23 L1370.20,515.11 L1370.88,513.05 L1371.57,511.06 L1372.26,509.14 L1372.94,507.29 L1373.63,505.51 L1374.32,503.78 L1375.00,502.07 L1375.69,500.37 L1376.38,498.70 L1377.06,497.04 L1377.75,495.42 L1378.43,493.81 L1379.12,492.24 L1379.81,490.69 L1380.49,489.17 L1381.18,487.69 L1381.87,486.24 L1382.55,484.83 L1383.24,483.45 L1383.92,482.11 L1384.61,480.81 L1385.30,479.56 L1385.98,478.35 L1386.67,477.18 L1387.36,476.07 L1388.04,475.00 L1388.73,473.98 L1389.41,473.02 L1390.10,472.10 L1390.79,471.23 L1391.47,470.36 L1392.16,469.50 L1392.85,468.66 L1393.53,467.83 L1394.22,467.01 L1394.90,466.21 L1395.59,465.42 L1396.28,464.65 L1396.96,463.90 L1397.65,463.16 L1398.34,462.45 L1399.02,461.75 L1399.71,461.07 L1400.39,460.42 L1401.08,459.79 L1401.77,459.18 L1402.45,458.59 L1403.14,458.03 L1403.83,457.50 L1404.51,456.99 L1405.20,456.51 L1405.88,456.06 L1406.57,455.63 L1407.26,455.24 L1407.94,454.88 L1408.63,454.55 L1409.32,454.25 L1410.00,453.97 L1410.69,453.69 L1411.37,453.41 L1412.06,453.14 L1412.75,452.87 L1413.43,452.60 L1414.12,452.35 L1414.81,452.09 L1415.49,451.85 L1416.18,451.61 L1416.86,451.38 L1417.55,451.16 L1418.24,450.94 L1418.92,450.74 L1419.61,450.55 L1420.30,450.37 L1420.98,450.21 L1421.67,450.05 L1422.35,449.91 L1423.04,449.79 L1423.73,449.67 L1424.41,449.58 L1425.10,449.50 L1425.79,449.44 L1426.47,449.39 L1427.16,449.37 L1427.84,449.36 L1428.53,449.38 L1429.22,449.41 L1429.90,449.47 L1430.59,449.54 L1431.28,449.64 L1431.96,449.75 L1432.65,449.88 L1433.33,450.02 L1434.02,450.18 L1434.71,450.35 L1435.39,450.54 L1436.08,450.74 L1436.77,450.94 L1437.45,451.16 L1438.14,451.39 L1438.82,451.63 L1439.51,451.87 L1440.20,452.12 L1440.88,452.37 L1441.57,452.63 L1442.26,452.89 L1442.94,453.16 L1443.63,453.42 L1444.31,453.69 L1445.00,453.96 L1445.69,454.24 L1446.37,454.54 L1447.06,454.88 L1447.75,455.23 L1448.43,455.61 L1449.12,456.01 L1449.80,456.44 L1450.49,456.88 L1451.18,457.34 L1451.86,457.82 L1452.55,458.32 L1453.24,458.83 L1453.92,459.35 L1454.61,459.89 L1455.29,460.44 L1455.98,461.00 L1456.67,461.57 L1457.35,462.15 L1458.04,462.73 L1458.73,463.32 L1459.41,463.92 L1460.10,464.52 L1460.78,465.12 L1461.47,465.72 L1462.16,466.32 L1462.84,466.92 L1463.53,467.52 L1464.22,468.12 L1464.90,468.72 L1465.59,469.33 L1466.27,469.95 L1466.96,470.58 L1467.65,471.22 L1468.33,471.87 L1469.02,472.53 L1469.70,473.19 L1470.39,473.87 L1471.08,474.56 L1471.76,475.26 L1472.45,475.97 L1473.14,476.68 L1473.82,477.41 L1474.51,478.14 L1475.20,478.89 L1475.88,479.64 L1476.57,480.40 L1477.25,481.18 L1477.94,481.96 L1478.63,482.74 L1479.31,483.54 L1480.00,484.35 L1480.68,485.16 L1481.37,485.99 L1482.06,486.83 L1482.74,487.69 L1483.43,488.56 L1484.12,489.46 L1484.80,490.37 L1485.49,491.30 L1486.17,492.24 L1486.86,493.19 L1487.55,494.16 L1488.23,495.13 L1488.92,496.12 L1489.61,497.12 L1490.29,498.12 L1490.98,499.14 L1491.66,500.16 L1492.35,501.18 L1493.04,502.21 L1493.72,503.25 L1494.41,504.28 L1495.10,505.32 L1495.78,506.36 L1496.47,507.40 L1497.15,508.44 L1497.84,509.47 L1498.53,510.51 L1499.21,511.54 L1499.90,512.56 L1502.64,516.66 L1505.39,520.81 L1508.13,524.99 L1510.88,529.22 L1513.62,533.50 L1516.37,537.84 L1519.12,542.24 L1521.86,546.71 L1524.61,551.27 L1527.35,555.93 L1530.10,560.66 L1532.84,565.46 L1535.59,570.29 L1538.33,575.15 L1541.08,580.00 L1543.82,584.83 L1546.57,589.67 L1549.31,594.55 L1552.06,599.45 L1554.80,604.37 L1557.55,609.29 L1560.29,614.21 L1563.04,619.10 L1565.78,623.96 L1568.53,628.78 L1571.27,633.55 L1574.02,638.28 L1576.76,643.02 L1579.51,647.75 L1582.25,652.47 L1585.00,657.16 L1587.74,661.82 L1590.49,666.44 L1593.23,671.02 L1595.98,675.54 L1598.72,680.00 L1601.47,684.39 L1604.21,688.70 L1606.95,692.95 L1609.70,697.18 L1612.45,701.37 L1615.19,705.51 L1617.93,709.61 L1620.68,713.66 L1623.43,717.65 L1626.17,721.57 L1628.91,725.42 L1631.66,729.20 L1634.40,732.90 L1637.15,736.52 L1639.89,740.06 L1642.64,743.57 L1645.38,747.03 L1648.13,750.45 L1650.88,753.83 L1653.62,757.15 L1656.37,760.42 L1659.11,763.65 L1661.86,766.82 L1664.60,769.93 L1667.35,772.99 L1670.09,775.99 L1672.84,778.93 L1675.58,781.81 L1678.33,784.62 L1681.07,787.38 L1683.82,790.11 L1686.56,792.80 L1689.31,795.44 L1692.05,798.04 L1694.80,800.61 L1697.54,803.12 L1700.29,805.59 L1703.03,808.01 L1705.78,810.38 L1708.52,812.71 L1711.27,814.98 L1714.01,817.19 L1716.76,819.35 L1719.50,821.46 L1722.25,823.53 L1724.99,825.58 L1727.74,827.61 L1730.48,829.61 L1733.23,831.57 L1735.97,833.50 L1738.72,835.39 L1741.46,837.23 L1744.20,839.02 L1746.95,840.76 L1749.70,842.43 L1752.44,844.05 L1755.18,845.59 L1757.93,847.05 L1760.68,848.44 L1763.42,849.77 L1766.16,851.04 L1768.91,852.28 L1771.66,853.48 L1774.40,854.63 L1777.14,855.75 L1779.89,856.84 L1782.63,857.89 L1785.38,858.92 L1788.12,859.92 L1790.87,860.90 L1793.62,861.85 L1796.36,862.78 L1799.11,863.70 L1801.85,864.60 L1804.60,865.50 L1807.34,866.38 L1810.09,867.24 L1812.83,868.10 L1815.58,868.94 L1818.32,869.76 L1821.07,870.56 L1823.81,871.34 L1826.56,872.10 L1829.30,872.84 L1832.05,873.55 L1834.79,874.23 L1837.54,874.89 L1840.28,875.52 L1843.03,876.12 L1845.77,876.69 L1848.52,877.23 L1851.26,877.75 L1854.01,878.26 L1856.75,878.75 L1859.50,879.22 L1862.24,879.68 L1864.99,880.12 L1867.73,880.56 L1870.47,881.00 L1873.22,881.42 L1875.97,881.85 L1878.71,882.28 L1881.45,882.70 L1884.20,883.14 L1886.95,883.57 L1889.69,884.02 L1892.43,884.47 L1895.18,884.93 L1897.93,885.38 L1900.67,885.83 L1903.41,886.28 L1906.16,886.71 L1908.91,887.13 L1911.65,887.53 L1914.39,887.92 L1917.14,888.28 L1919.89,888.62 L1922.63,888.93 L1925.38,889.21 L1928.12,889.47 L1930.87,889.71 L1933.61,889.95 L1936.36,890.17 L1939.10,890.38 L1941.85,890.58 L1944.59,890.77 L1947.34,890.96 L1950.08,891.14 L1952.83,891.31 L1955.57,891.48 L1958.32,891.65 L1961.06,891.81 L1963.81,891.98 L1966.55,892.15 L1969.30,892.31 L1972.04,892.47 L1974.79,892.63 L1977.53,892.79 L1980.28,892.95 L1983.02,893.11 L1985.77,893.26 L1988.51,893.41 L1991.26,893.56 L1994.00,893.70 L1996.75,893.84 L1999.49,893.98 L2002.24,894.12 L2004.98,894.25 L2007.72,894.38 L2010.47,894.51 L2013.22,894.63 L2015.96,894.75 L2018.70,894.87 L2021.45,894.98" stroke="#008000" stroke-width="8.11" stroke-dasharray="29.6 13.4" stroke-dashoffset="-3" stroke-linejoin="round" fill="none"/>
<path d="M1896.6,88.1 L1950.4,88.1" stroke="#ff7600" stroke-width="8.11" stroke-linecap="round"/>
<path d="M1896.6,126.0 L1950.4,126.0" stroke="#0066cc" stroke-width="8.11" stroke-dasharray="51.2 13.4 8.0 13.4"/>
<path d="M1896.6,164.1 L1950.4,164.1" stroke="#008000" stroke-width="8.11" stroke-dasharray="29.6 13.4"/>
<g class="sm" font-size="26.9" fill="#262626" xml:space="preserve"><text x="1971.3" y="97.5">liner</text><text x="1971.3" y="135.4">c = 1</text><text x="1971.3" y="173.5">c = 2</text></g>
<rect x="1422.4" y="71.0" width="259" height="53.6" rx="7.5" ry="7.5" fill="#fff" fill-opacity="0.64" stroke="#b4b4b4" stroke-width="1.6"/><text x="1432.0" y="107.0" font-size="35.3" fill="#262626">(20.41, 0.0182)</text>
<rect x="1458.6" y="412.8" width="259" height="53.6" rx="7.5" ry="7.5" fill="#fff" fill-opacity="0.64" stroke="#b4b4b4" stroke-width="1.6"/><text x="1468.2" y="448.6" font-size="35.3" fill="#262626">(33.71, 0.0103)</text>
<rect x="1512.6" y="451.6" width="259" height="53.6" rx="7.5" ry="7.5" fill="#fff" fill-opacity="0.64" stroke="#b4b4b4" stroke-width="1.6"/><text x="1522.2" y="487.4" font-size="35.3" fill="#262626">(53.16, 0.0095)</text>
</g></svg></body></html>
